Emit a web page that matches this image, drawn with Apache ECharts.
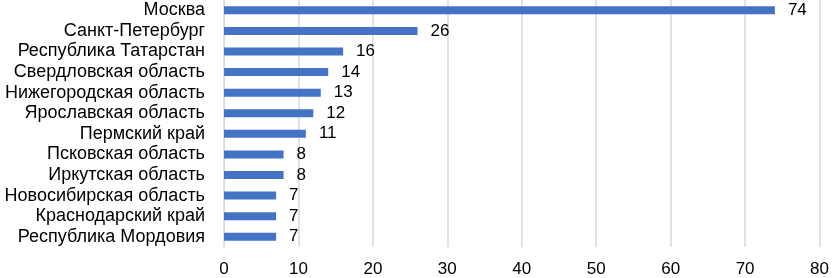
<!DOCTYPE html>
<html><head><meta charset="utf-8">
<script src="https://cdn.jsdelivr.net/npm/echarts@6/dist/echarts.min.js"></script>
<style>html,body{margin:0;padding:0;background:#fff}#c{width:832px;height:278px}</style>
</head><body><div id="c"></div>
<script>
const categories = ["Москва","Санкт-Петербург","Республика Татарстан","Свердловская область","Нижегородская область","Ярославская область","Пермский край","Псковская область","Иркутская область","Новосибирская область","Краснодарский край","Республика Мордовия"];
const values = [74,26,16,14,13,12,11,8,8,7,7,7];
const xTicks = [0,10,20,30,40,50,60,70,80];

const chart = echarts.init(document.getElementById('c'));
chart.setOption({
  animation:false,
  grid:{left:224,right:10,top:-4,height:253,containLabel:false},
  xAxis:{type:'value',min:xTicks[0],max:xTicks[xTicks.length-1],interval:10,
    axisLine:{show:false},axisTick:{show:false},
    axisLabel:{color:'#000',fontFamily:'Liberation Sans, Arial',fontSize:17,margin:14},
    splitLine:{lineStyle:{color:'#d9d9d9',width:1.5}}},
  yAxis:{type:'category',data:categories,inverse:true,
    axisLine:{show:true,lineStyle:{color:'#d9d9d9'}},axisTick:{show:false},
    axisLabel:{color:'#000',fontFamily:'Liberation Sans, Arial',fontSize:18,margin:19,interval:0}},
  series:[{type:'bar',data:values,barWidth:8,itemStyle:{color:'#4472C4'},
    label:{show:true,position:'right',distance:13,color:'#000',fontFamily:'Liberation Sans, Arial',fontSize:17}}]
});
</script></body></html>
